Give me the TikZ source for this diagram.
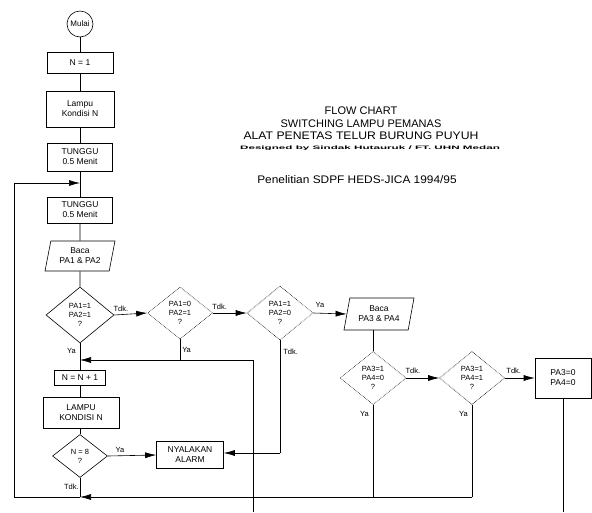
\documentclass[tikz,border=0pt]{standalone}
\usepackage{fontspec}
\setmainfont{Liberation Sans}
\usetikzlibrary{shapes.geometric,arrows.meta}
\begin{document}
\begin{tikzpicture}[x=1pt,y=-1pt,
  every node/.style={font=\fontsize{8.5}{10}\selectfont},
  line/.style={draw=black,line width=0.6pt},
  arr/.style={line,-{Latex[length=11pt,width=6pt]}},
  proc/.style={draw,line width=0.6pt,rectangle,align=center,inner sep=1pt},
  dec/.style={draw,line width=0.6pt,diamond,align=center,inner sep=0pt,font=\fontsize{7.5}{9}\selectfont},
  decdot/.style={dec,densely dotted},
  io/.style={draw,line width=0.6pt,trapezium,trapezium left angle=72,trapezium right angle=108,align=center,inner sep=1pt,trapezium stretches body},
  lbl/.style={font=\fontsize{7.5}{9}\selectfont,inner sep=0pt},
  ttl/.style={font=\fontsize{11}{13}\selectfont,inner sep=0pt}
]
\useasboundingbox (0,0) rectangle (592,512);
\fill[white] (0,0) rectangle (592,512);

% left column
\node[draw,circle,line width=0.6pt,minimum size=26pt,inner sep=0pt,font=\fontsize{8}{9}\selectfont] (start) at (80,24) {Mulai};
\node[proc,minimum width=66pt,minimum height=21pt] (n1) at (80,62.5) {N = 1};
\node[proc,minimum width=68pt,minimum height=36pt] (lampu) at (80,109) {Lampu\\Kondisi N};
\node[proc,minimum width=65pt,minimum height=28pt] (tunggu1) at (80,157) {TUNGGU\\0.5 Menit};
\node[proc,minimum width=65pt,minimum height=26pt] (tunggu2) at (80,210) {TUNGGU\\0.5 Menit};
\node[io,minimum width=70pt,minimum height=30pt] (baca1) at (80,256) {Baca\\PA1 \& PA2};
\node[dec,minimum width=68pt,minimum height=56pt] (d1) at (80,315) {PA1=1\\PA2=1\\?};
\node[decdot,minimum width=65pt,minimum height=52pt] (d2) at (180,313) {PA1=0\\PA2=1\\?};
\node[decdot,minimum width=66pt,minimum height=54pt] (d3) at (280,313) {PA1=1\\PA2=0\\?};
\node[io,minimum width=70pt,minimum height=32pt] (baca2) at (379,314) {Baca\\PA3 \& PA4};
\node[decdot,minimum width=66pt,minimum height=53pt] (d4) at (373,378) {PA3=1\\PA4=0\\?};
\node[decdot,minimum width=65pt,minimum height=53pt] (d5) at (472,378) {PA3=1\\PA4=1\\?};
\node[proc,minimum width=56pt,minimum height=40pt] (box34) at (563,378) {PA3=0\\PA4=0};
\node[proc,line width=1pt,minimum width=51pt,minimum height=15pt] (nn1) at (80,377.5) {N = N + 1};
\node[proc,minimum width=76pt,minimum height=31pt] (lampu2) at (81,412.5) {LAMPU\\KONDISI N};
\node[dec,minimum width=55pt,minimum height=43pt] (d6) at (80,456) {N = 8\\?};
\node[proc,minimum width=67pt,minimum height=27pt] (alarm) at (190,455) {NYALAKAN\\ALARM};

% titles
\node[ttl] (t1) at (361,111) {FLOW CHART};
\node[ttl] (t2) at (361,123.5) {SWITCHING LAMPU PEMANAS};
\node[ttl] (t3) at (361,136) {\scalebox{1.11}[1]{ALAT PENETAS TELUR BURUNG PUYUH}};
\node[inner sep=0pt,font=\bfseries\fontsize{5.5}{6}\selectfont] (t4) at (370,148) {\scalebox{2.12}[0.9]{Designed by Sindak Hutauruk / FT. UHN Medan}};
\node[ttl,font=\fontsize{11}{13}\selectfont] (t5) at (357,180) {\scalebox{1.08}[1]{Penelitian SDPF HEDS-JICA 1994/95}};

% coordinates
\coordinate (lt) at (14,183);
\coordinate (lb) at (14,497);
\coordinate (jb) at (80,497);
\coordinate (b4) at (373,497);
\coordinate (b5) at (472,497);
\coordinate (j1) at (253,360);
\coordinate (jend) at (253,512);
\coordinate (j2) at (180,360);
\coordinate (j3) at (280,453);
\coordinate (bend) at (563,512);

% main spine
\draw[line] (start) -- (n1);
\draw[line] (n1) -- (lampu);
\draw[line] (lampu) -- (tunggu1);
\draw[line] (tunggu1) -- (tunggu2);
\draw[line] (tunggu2) -- (baca1.south |- tunggu2.south) -- (baca1);
\draw[line] (baca1) -- (d1);
\draw[arr] (lt) -- (tunggu1.south |- lt);

\draw[arr] (d1.east) -- node[lbl,above,pos=0.2,yshift=3pt] {Tdk.} (d2.west);
\draw[arr] (d2.east) -- node[lbl,above,pos=0.2,yshift=3pt] {Tdk.} (d3.west);
\draw[arr] (d3.east) -- node[lbl,above,pos=0.2,yshift=5pt] {Ya} (baca2.west);
\draw[line] (d4.north |- baca2.south) -- (d4.north);
\draw[arr] (d4.east) -- node[lbl,above,pos=0.2,yshift=4pt] {Tdk.} (d5.west);
\draw[arr] (d5.east) -- node[lbl,above,pos=0.3,yshift=4pt] {Tdk.} (box34.west);

\draw[line] (d1.south) -- node[lbl,left,pos=0.3,xshift=-4pt] {Ya} (nn1.north);
\draw[line] (d2.south) -- node[lbl,right,pos=0.5,xshift=2pt] {Ya} (j2);
\draw[line] (jend) -- (j1);
\draw[arr] (j1) -- (nn1.north |- j1);

\draw[line] (d3.south) -- node[lbl,right,pos=0.1,xshift=3pt] {Tdk.} (j3);
\draw[arr] (j3) -- (alarm.east |- j3);

\draw[line] (nn1) -- (lampu2.north -| nn1);
\draw[line] (lampu2.south -| d6) -- (d6);
\draw[arr] (d6.east) -- node[lbl,above,pos=0.25,yshift=3pt] {Ya} (alarm.west);

\draw[line] (d6.south) -- node[lbl,left,pos=0.45,xshift=-1pt] {Tdk.} (jb);
\draw[line] (d4.south) -- node[lbl,left,pos=0.1,xshift=-4pt] {Ya} (b4);
\draw[line] (d5.south) -- node[lbl,left,pos=0.1,xshift=-4pt] {Ya} (b5);
\draw[arr] (b5) -- (jb);
\draw[line] (jb) -- (lb) -- (lt);
\draw[line] (box34.south) -- (bend);
\end{tikzpicture}
\end{document}
